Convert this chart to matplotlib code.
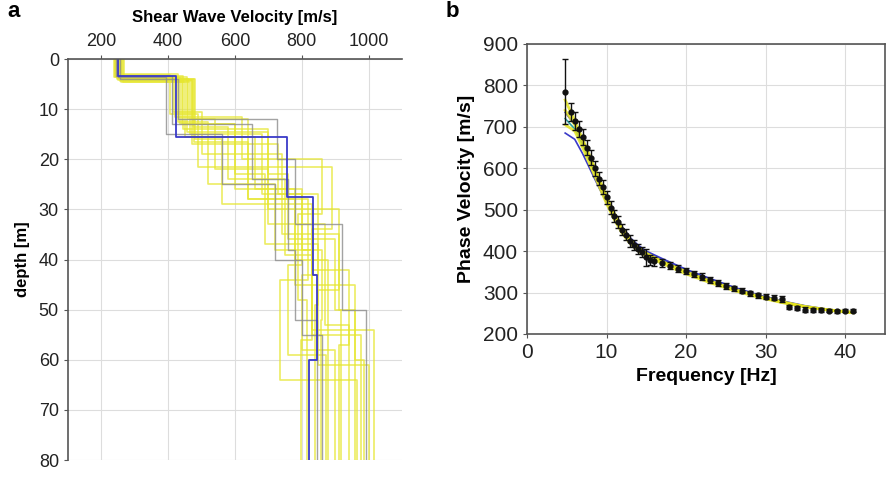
import numpy as np
import matplotlib
matplotlib.use("Agg")
import matplotlib.pyplot as plt

plt.rcParams['font.family'] = ['Liberation Sans', 'DejaVu Sans']

# ---- panel a: shear wave velocity profiles (interface depths, layer velocities)
max_depth = 80
yellow_depths = [
    [3.2, 11, 21.5, 34, 54], [3.8, 13, 26, 40, 55], [4.2, 12, 28, 44, 64],
    [3.5, 14.5, 23, 36, 50], [4.0, 16, 29, 42, 57], [3.0, 12.5, 25, 38, 52],
    [4.5, 15, 27, 41, 59], [3.6, 11.5, 20, 31, 48], [4.1, 13.5, 24, 39, 56],
    [3.3, 14, 30, 46, 61], [3.9, 12, 22, 33, 53], [4.3, 17, 27, 43, 58],
    [3.4, 10.5, 19, 35, 50], [4.6, 15.5, 26, 38, 55], [3.7, 13, 23, 37, 49],
    [4.0, 16.5, 28, 45, 60],
]
yellow_vels = [
    [245, 405, 490, 890, 830, 1016], [255, 440, 600, 780, 880, 978],
    [250, 470, 640, 820, 736, 966], [238, 455, 700, 760, 900, 918],
    [262, 480, 560, 830, 940, 912], [248, 430, 520, 720, 860, 858],
    [258, 465, 680, 800, 760, 873], [242, 420, 620, 860, 790, 816],
    [268, 475, 580, 750, 830, 798], [252, 445, 700, 910, 850, 1000],
    [246, 460, 540, 700, 870, 940], [256, 470, 730, 850, 800, 900],
    [240, 415, 500, 740, 910, 960], [264, 450, 660, 800, 830, 880],
    [250, 435, 600, 690, 850, 840], [260, 478, 640, 780, 960, 985],
]
gray_depths = [[3.5, 15, 25, 40, 55], [4.0, 12, 20, 33, 50], [3.3, 13, 24, 38, 52]]
gray_vels = [[250, 395, 560, 720, 800, 860], [255, 430, 727, 780, 920, 993],
             [245, 410, 650, 760, 780, 845]]
best_depths = [3.4, 15.5, 27.5, 43, 60]
best_vels = [250, 422, 757, 833, 846, 822]

# ---- panel b: dispersion curve
obs_freq = [4.8, 5.5, 6.0, 6.5, 7.0, 7.5, 8.0, 8.5, 9.0, 9.5, 10, 10.5, 11, 11.5,
            12, 12.5, 13, 13.5, 14, 14.5, 15, 15.5, 16, 17, 18, 19, 20, 21, 22,
            23, 24, 25, 26, 27, 28, 29, 30, 31, 32, 33, 34, 35, 36, 37, 38, 39,
            40, 41]
obs_vel = [785, 735, 715, 695, 675, 650, 625, 600, 575, 555, 530, 505, 485, 470,
           452, 440, 425, 415, 405, 398, 385, 378, 375, 372, 365, 358, 352, 345,
           338, 330, 323, 316, 310, 304, 298, 294, 290, 287, 284, 266, 262, 259,
           258, 258, 256, 255, 256, 256]
obs_err = [78, 22, 22, 20, 20, 18, 18, 18, 16, 16, 16, 15, 15, 14, 14, 14, 14, 13,
           13, 13, 20, 12, 10, 10, 9, 9, 8, 8, 8, 7, 7, 7, 7, 6, 6, 6, 6, 6, 8, 5,
           5, 5, 4, 4, 4, 4, 4, 4]
model_freq = [4.8, 6, 7, 8, 9, 10, 11, 12, 13, 14, 15, 17, 20, 23, 26, 29, 32, 35, 38, 41]
model_yellow = [
    [765, 715, 670, 625, 578, 533, 490, 455, 428, 408, 395, 375, 350, 328, 308, 292, 278, 266, 258, 252],
    [705, 690, 650, 605, 560, 515, 475, 442, 418, 400, 388, 370, 345, 324, 305, 289, 276, 265, 257, 251],
    [740, 705, 665, 620, 572, 528, 486, 452, 426, 407, 394, 374, 349, 327, 307, 291, 277, 266, 258, 252],
]
model_blue = [
    [735, 705, 662, 620, 575, 532, 492, 458, 432, 414, 400, 382, 356, 334, 313, 295, 280, 268, 259, 253],
    [685, 670, 635, 595, 555, 517, 480, 450, 425, 410, 398, 378, 352, 330, 309, 292, 278, 267, 258, 252],
]
model_teal = [720, 695, 655, 612, 568, 527, 488, 455, 430, 412, 398, 380, 355, 333, 312, 294, 279, 267, 258, 252]


def step_profile(depths, vels):
    d = np.concatenate([[0], np.repeat(depths, 2), [max_depth]])
    v = np.repeat(vels, 2)
    return v, d


fig = plt.figure(figsize=(8.86, 4.97), dpi=100)

# panel a
ax1 = fig.add_axes([0.0767, 0.0744, 0.377, 0.8068])
for d, v in zip(yellow_depths, yellow_vels):
    x, y = step_profile(d, v)
    ax1.plot(x, y, color='#e6e62e', lw=1.2, alpha=0.75)
for d, v in zip(gray_depths, gray_vels):
    x, y = step_profile(d, v)
    ax1.plot(x, y, color='#8c8c8c', lw=1.0, alpha=0.8)
x, y = step_profile(best_depths, best_vels)
ax1.plot(x, y, color='#3a3ac8', lw=1.3)

ax1.set_xlim(100, 1100)
ax1.set_ylim(80, 0)
ax1.set_xticks([200, 400, 600, 800, 1000])
ax1.set_yticks(range(0, 81, 10))
ax1.xaxis.tick_top()
ax1.xaxis.set_label_position('top')
ax1.set_xlabel('Shear Wave Velocity [m/s]', fontsize=12, fontweight='bold', labelpad=8)
ax1.set_ylabel('depth [m]', fontsize=12, fontweight='bold', labelpad=6)
ax1.tick_params(labelsize=13, length=3, color='#555555', labelcolor='#222222')
ax1.grid(True, color='#dddddd', lw=0.8)
ax1.set_axisbelow(True)
for s in ['right', 'bottom']:
    ax1.spines[s].set_visible(False)
for s in ['left', 'top']:
    ax1.spines[s].set_color('#555555')
    ax1.spines[s].set_linewidth(1.2)
fig.text(0.008, 0.965, 'a', fontsize=16, fontweight='bold')

# panel b
ax2 = fig.add_axes([0.5948, 0.328, 0.404, 0.5835])
ax2.plot(model_freq, model_teal, color='#2aa0a0', lw=1.2)
for v in model_blue:
    ax2.plot(model_freq, v, color='#3a3ac8', lw=1.2)
for v in model_yellow:
    ax2.plot(model_freq, v, color='#e6e61e', lw=2.0, alpha=0.85)
ax2.errorbar(obs_freq, obs_vel, yerr=obs_err, fmt='o', color='#111111', ms=3.5,
             elinewidth=1, capsize=2.5, capthick=1)
ax2.set_xlim(0, 45)
ax2.set_ylim(200, 900)
ax2.set_xticks([0, 10, 20, 30, 40])
ax2.set_yticks(range(200, 901, 100))
ax2.set_xlabel('Frequency [Hz]', fontsize=14, fontweight='bold', labelpad=4)
ax2.set_ylabel('Phase Velocity [m/s]', fontsize=14, fontweight='bold', labelpad=6)
ax2.tick_params(labelsize=15, length=3, color='#555555', labelcolor='#222222')
ax2.grid(True, color='#dddddd', lw=0.8)
ax2.set_axisbelow(True)
for s in ax2.spines.values():
    s.set_color('#555555')
    s.set_linewidth(1.2)
fig.text(0.503, 0.965, 'b', fontsize=16, fontweight='bold')

fig.savefig('out.png', dpi=100)
